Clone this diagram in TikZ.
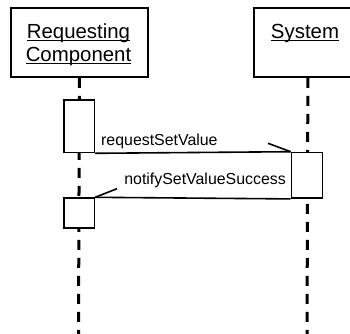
\documentclass[tikz,border=0pt]{standalone}
\usepackage{fontspec}
\setmainfont{Liberation Sans}
\newcommand\myul[1]{\setbox0\hbox{#1}\rlap{\rule[-3pt]{\wd0}{1.3pt}}\box0}
\tikzset{
  objbox/.style={draw, line width=1.8pt, fill=white, inner sep=0pt, anchor=north west},
  actbox/.style={draw, line width=1.6pt, fill=white, inner sep=0pt, anchor=north west, minimum width=30.5pt},
  lifeline/.style={line width=3pt, dash pattern=on 10pt off 8pt},
  msg/.style={line width=1.6pt},
  bigtxt/.style={inner sep=0pt, font=\fontsize{20.4}{23.3}\selectfont},
  lbl/.style={inner sep=0pt, font=\fontsize{15.9}{18}\selectfont},
}
\begin{document}
\begin{tikzpicture}[x=1pt,y=-1pt]
\useasboundingbox (0,0) rectangle (350,333);
\clip (0,0) rectangle (350,333);
% object boxes
\node[objbox, minimum width=137pt, minimum height=69pt] (reqbox) at (10,7) {};
\node[objbox, minimum width=108pt, minimum height=69pt] (sysbox) at (253,7) {};
\node[bigtxt, anchor=base] (reqt1) at (78.5,38) {\myul{Requesting}};
\node[bigtxt, anchor=base] (reqt2) at (78.5,61.3) {\myul{Component}};
\node[bigtxt, anchor=base] (syst) at (305,38) {\myul{System}};
% lifeline ends
\coordinate (reqend) at (78.5,336);
\coordinate (sysend) at (307,336);
\draw[lifeline] (reqbox.south) -- (reqend);
\draw[lifeline] (sysbox.south) -- (sysend);
% activations
\node[actbox, minimum height=52.7pt] (act1) at (63,99) {};
\node[actbox, minimum height=45.6pt, minimum width=31pt] (sysact) at (290.7,151.7) {};
\node[actbox, minimum height=29.7pt] (act2) at (63,197.3) {};
% messages
\coordinate (barb1) at (268,143.3);
\coordinate (barb2) at (117,188.7);
\draw[msg] (act1.south east) -- (sysact.north west);
\draw[msg] (barb1) -- (sysact.north west);
\draw[msg] (sysact.south west) -- (act2.north east);
\draw[msg] (barb2) -- (act2.north east);
\node[lbl, anchor=base west] (m1) at (101,145) {requestSetValue};
\node[lbl, anchor=base east] (m2) at (286,184) {notifySetValueSuccess};
\end{tikzpicture}
\end{document}
